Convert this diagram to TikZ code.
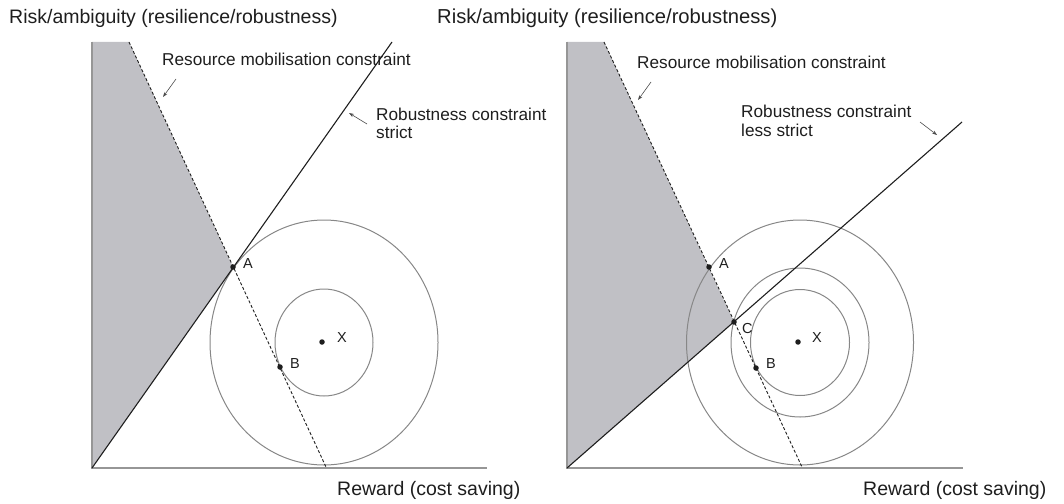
\documentclass[tikz,border=0pt]{standalone}
\usepackage{fontspec}
\setmainfont{Liberation Sans}
\usetikzlibrary{arrows.meta}
\definecolor{regiongray}{RGB}{192,192,197}
\definecolor{axisgray}{RGB}{150,150,150}
\definecolor{circgray}{RGB}{135,135,135}
\definecolor{ink}{RGB}{30,30,30}
\begin{document}
\begin{tikzpicture}[x=1pt,y=-1pt,
 axis/.style={draw=axisgray,line width=1.2pt},
 robust/.style={draw=ink,line width=1.1pt},
 resline/.style={draw=ink,line width=0.9pt,dash pattern=on 3pt off 2pt},
 ring/.style={draw=circgray,line width=1pt},
 dotpt/.style={circle,fill=ink,inner sep=0pt,minimum size=5.5pt},
 title/.style={anchor=base west,inner sep=0pt,font=\fontsize{19.5}{23}\selectfont,text=ink},
 lab/.style={anchor=base west,inner sep=0pt,font=\fontsize{17.2}{19}\selectfont,text=ink},
 ptlab/.style={anchor=base west,inner sep=0pt,font=\fontsize{14.5}{16}\selectfont,text=ink},
 pointer/.style={draw=black!70,line width=0.6pt,-{Stealth[length=5pt,width=3.5pt]}}]
\useasboundingbox (0,0) rectangle (1064,503);

% ---------------- left panel ----------------
\coordinate (LO) at (92,468);
\coordinate (LYT) at (92,42);
\coordinate (LXE) at (487,468);
\coordinate (LDT) at (129,42);
\coordinate (LDB) at (326,467);
\coordinate (LRT) at (392,42);
\coordinate (LA) at (233,267);
\coordinate (LB) at (280,367);
\coordinate (LX) at (322,342);
\coordinate (LC0) at (324,342.5);

\fill[fill=regiongray] (LYT) -- (LDT) -- (LA) -- (LO) -- cycle;
\draw[axis] (LYT) -- (LO) -- (LXE);
\draw[ring] (LC0) ellipse [x radius=114pt, y radius=122.5pt];
\draw[ring] (LC0) ellipse [x radius=49pt, y radius=53.5pt];
\draw[robust] (LO) -- (LRT);
\draw[resline] (LDT) -- (LDB);
\node[dotpt] (lAd) at (LA) {};
\node[dotpt] (lBd) at (LB) {};
\node[dotpt] (lXd) at (LX) {};
\node[ptlab] (lAl) at (243,268) {A};
\node[ptlab] (lBl) at (290,368) {B};
\node[ptlab] (lXl) at (337,342) {X};

\node[title] (lt) at (9,24) {Risk/ambiguity (resilience/robustness)};
\node[title] (lr) at (337,495) {Reward (cost saving)};
\node[lab] (lres) at (162,66) {Resource mobilisation constraint};
\node[lab] (lrob1) at (376,120) {Robustness constraint};
\node[lab] (lrob2) at (376,138) {strict};
\coordinate (lresS) at (176,79);
\coordinate (lresE) at (163,97);
\coordinate (lrobS) at (367,124);
\coordinate (lrobE) at (349,113);
\draw[pointer] (lresS) -- (lresE);
\draw[pointer] (lrobS) -- (lrobE);

% ---------------- right panel ----------------
\coordinate (RO) at (567,468);
\coordinate (RYT) at (567,42);
\coordinate (RXE) at (963,468);
\coordinate (RDT) at (604,42);
\coordinate (RDB) at (802,467);
\coordinate (RRT) at (962,122);
\coordinate (RA) at (709,267);
\coordinate (RC) at (734,322);
\coordinate (RB) at (756,368);
\coordinate (RX) at (798,342);
\coordinate (RC0) at (800,342.5);

\fill[fill=regiongray] (RYT) -- (RDT) -- (RC) -- (RO) -- cycle;
\draw[axis] (RYT) -- (RO) -- (RXE);
\draw[ring] (RC0) ellipse [x radius=113.5pt, y radius=122.5pt];
\draw[ring] (RC0) ellipse [x radius=69pt, y radius=74.5pt];
\draw[ring] (RC0) ellipse [x radius=49.5pt, y radius=53pt];
\draw[robust] (RO) -- (RRT);
\draw[resline] (RDT) -- (RDB);
\node[dotpt] (rAd) at (RA) {};
\node[dotpt] (rCd) at (RC) {};
\node[dotpt] (rBd) at (RB) {};
\node[dotpt] (rXd) at (RX) {};
\node[ptlab] (rAl) at (719,268) {A};
\node[ptlab] (rCl) at (742,333) {C};
\node[ptlab] (rBl) at (766,368) {B};
\node[ptlab] (rXl) at (812,342) {X};

\node[title,font=\fontsize{20.2}{23}\selectfont] (rt) at (437,24) {Risk/ambiguity (resilience/robustness)};
\node[title] (rr) at (863,495) {Reward (cost saving)};
\node[lab] (rres) at (637,68) {Resource mobilisation constraint};
\node[lab] (rrob1) at (741,117) {Robustness constraint};
\node[lab] (rrob2) at (741,136) {less strict};
\coordinate (rresS) at (651,82);
\coordinate (rresE) at (638,100);
\coordinate (rrobS) at (920,122);
\coordinate (rrobE) at (937,135);
\draw[pointer] (rresS) -- (rresE);
\draw[pointer] (rrobS) -- (rrobE);
\end{tikzpicture}
\end{document}
